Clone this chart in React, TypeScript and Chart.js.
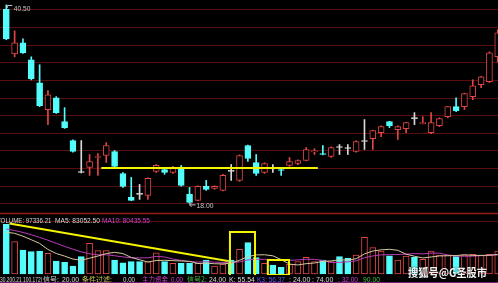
import React, { useEffect, useRef } from 'react';
import { Chart, registerables } from 'chart.js';

Chart.register(...registerables);

// ---- data ----
const OPEN = [40.01, 34.96, 36.2, 34.28, 31.68, 28.63, 29.98, 27.27, 25.12, 21.5,
  22.07, 23.2, 23.43, 23.88, 21.39, 18.68, 19.02, 18.9, 21.62, 21.84,
  21.5, 21.96, 19.02, 18.34, 19.92, 19.69, 19.47, 21.62, 20.6, 24.56,
  22.63, 21.5, 21.9, 21.84, 22.3, 22.52, 22.86, 23.84, 23.65, 23.31,
  24.33, 24.22, 23.88, 25.01, 25.35, 26.03, 27.27, 26.37, 26.48, 27.61,
  27.04, 26.03, 26.82, 27.83, 28.97, 28.97, 30.1, 31.45, 31.79, 34.62];
const HIGH = [40.5, 37.56, 36.65, 34.62, 33.72, 30.78, 30.1, 28.85, 25.2, 25.12,
  23.54, 23.65, 24.89, 24.0, 21.5, 20.94, 20.15, 20.9, 22.4, 21.9,
  22.2, 22.3, 19.81, 20.0, 20.6, 20.0, 21.3, 22.41, 23.5, 24.6,
  23.54, 22.6, 22.41, 21.9, 23.2, 22.95, 24.33, 24.2, 24.56, 24.4,
  24.67, 24.67, 25.1, 27.5, 26.3, 26.8, 27.3, 26.8, 27.2, 28.29,
  27.83, 28.29, 27.7, 29.0, 29.98, 30.5, 32.02, 32.4, 35.19, 37.67];
const LOW = [36.55, 34.62, 35.0, 32.0, 28.97, 26.93, 28.2, 26.5, 23.8, 21.45,
  21.17, 21.17, 22.63, 22.1, 19.8, 18.3, 18.45, 18.45, 21.5, 21.3,
  21.4, 19.95, 18.0, 18.3, 19.47, 19.6, 19.4, 20.6, 20.5, 22.75,
  21.17, 21.4, 21.5, 21.17, 22.2, 22.4, 22.8, 23.54, 23.5, 23.2,
  23.54, 23.54, 23.8, 24.11, 24.11, 25.57, 26.59, 25.24, 26.03, 26.93,
  27.0, 25.9, 26.7, 27.7, 28.4, 28.63, 29.76, 31.11, 31.7, 34.05];
const CLOSE = [36.65, 36.2, 35.07, 32.13, 29.08, 30.32, 28.29, 26.59, 23.88, 21.5,
  22.75, 23.31, 24.56, 22.18, 19.92, 18.34, 19.02, 20.83, 22.3, 21.5,
  22.07, 20.03, 18.11, 19.92, 19.58, 19.92, 21.17, 21.62, 23.43, 23.09,
  21.39, 22.52, 21.9, 21.73, 22.75, 22.86, 24.11, 23.92, 23.54, 24.33,
  24.33, 24.22, 25.01, 25.01, 26.25, 26.71, 26.82, 26.71, 27.16, 27.61,
  27.16, 27.16, 27.61, 28.97, 28.51, 30.44, 31.34, 32.36, 35.07, 37.33];

const VOLUME = [210300, 136700, 101600, 94400, 97300, 87600, 55000, 49500, 33900, 73200,
  129900, 98600, 98600, 59200, 47800, 52100, 52100, 52100, 90100, 52100,
  45300, 45300, 45300, 45300, 59200, 33900, 42300, 59200, 104500, 132500,
  69000, 45300, 38100, 28400, 41100, 52100, 70700, 52100, 59200, 52100,
  73200, 66400, 80400, 155300, 111300, 97300, 77400, 59200, 76200, 70700,
  62200, 97300, 80400, 80400, 73200, 80400, 83400, 80400, 83400, 97336.21];
// 1 = rising (red hollow) volume bar, 0 = falling (cyan)
const VOL_UP = [0, 1, 0, 0, 0, 1, 0, 0, 0, 0,
  1, 1, 1, 0, 0, 0, 0, 1, 1, 0,
  1, 0, 0, 1, 0, 1, 1, 0, 1, 0,
  0, 1, 0, 0, 1, 1, 1, 1, 0, 1,
  0, 0, 1, 1, 1, 1, 0, 1, 1, 0,
  1, 1, 1, 1, 0, 1, 1, 1, 1, 1];
const MA5 = [177000, 172000, 160000, 145000, 129400, 103800, 86700, 75800, 63200, 58100,
  67000, 76100, 86400, 91700, 86400, 70100, 60400, 50600, 57100, 58000,
  56500, 55100, 53700, 44300, 45800, 43400, 42800, 45700, 58100, 73400,
  80800, 81400, 77000, 61000, 41900, 38400, 43700, 46600, 53100, 55400,
  59800, 58900, 64800, 84900, 97300, 102300, 104600, 100200, 83700, 75200,
  67900, 72000, 76400, 77300, 77800, 81600, 78700, 78700, 79300, 83052.5];
const MA10 = [190000, 184000, 176000, 166000, 155000, 143000, 130000, 117000, 105000, 93700,
  85400, 81400, 81100, 77400, 72300, 68500, 68200, 68500, 74400, 72200,
  63300, 57700, 52200, 50700, 51900, 50000, 49000, 49700, 51200, 59600,
  62100, 62100, 61400, 59600, 57700, 59600, 62600, 61800, 57100, 48700,
  49100, 51300, 55700, 69000, 76400, 81100, 81800, 82500, 84300, 86300,
  85100, 88300, 88300, 80500, 76500, 74800, 75400, 77600, 78300, 80435.55];

const PRICE_GRID = [40, 38, 36, 34, 32, 30, 28, 26, 24, 22, 20, 18];

// hand-drawn yellow annotations, in data units (index, price / volume)
const SUPPORT_LINE = [{ x: 11.4, y: 22.0 }, { x: 37.4, y: 22.0 }];
const VOL_TREND = [{ x: 0.38, y: 213700 }, { x: 26.6, y: 55000 }];
const BOX1 = { x0: 26.85, x1: 29.86, y0: -16900, y1: 177700 };
const BOX2 = { x0: 31.4, x1: 33.94, y0: -4200, y1: 59200 };

// ---- styles ----
const UP = '#e04646';
const DOWN = '#54fcfc';
const FLAT = '#d8d8d8';
const FONT = '"Liberation Sans", "Noto Sans CJK SC", sans-serif';
const CJK = '"Noto Sans CJK SC", "Liberation Sans", sans-serif';

const candleColor = (i: number) =>
  CLOSE[i] > OPEN[i] ? UP : CLOSE[i] < OPEN[i] ? DOWN : FLAT;

const boxPts = (b: { x0: number; x1: number; y0: number; y1: number }) => [
  { x: b.x0, y: b.y0 }, { x: b.x0, y: b.y1 }, { x: b.x1, y: b.y1 }, { x: b.x1, y: b.y0 }, { x: b.x0, y: b.y0 },
];

function txt(ctx: CanvasRenderingContext2D, s: string, x: number, y: number, color: string, w?: number, font = '7px ' + FONT) {
  ctx.font = font;
  ctx.fillStyle = color;
  ctx.textAlign = 'left';
  ctx.textBaseline = 'alphabetic';
  if (w) ctx.fillText(s, x, y, w);
  else ctx.fillText(s, x, y);
}

const panelPlugin = {
  id: 'panels',
  beforeDatasetsDraw(chart: any) {
    const ctx = chart.ctx as CanvasRenderingContext2D;
    const { left, right } = chart.chartArea;
    const yP = chart.scales.yP;
    ctx.save();
    ctx.lineWidth = 1;
    ctx.strokeStyle = 'rgba(120,20,20,0.75)';
    PRICE_GRID.forEach((v) => {
      const y = Math.round(yP.getPixelForValue(v)) + 0.5;
      ctx.beginPath();
      ctx.moveTo(left, y);
      ctx.lineTo(right, y);
      ctx.stroke();
    });
    // panel separator and volume grid
    ctx.strokeStyle = '#9a1818';
    ctx.lineWidth = 1.5;
    ctx.beginPath();
    ctx.moveTo(left, 213.5);
    ctx.lineTo(right, 213.5);
    ctx.stroke();
    ctx.lineWidth = 1;
    ctx.strokeStyle = 'rgba(120,20,20,0.75)';
    ctx.beginPath();
    ctx.moveTo(left, 221.5);
    ctx.lineTo(right, 221.5);
    ctx.stroke();
    ctx.restore();
  },
  afterDatasetsDraw(chart: any) {
    const ctx = chart.ctx as CanvasRenderingContext2D;
    const xs = chart.scales.x;
    const yP = chart.scales.yP;
    ctx.save();
    // highest / lowest price labels
    let hi = 0;
    let lo = 0;
    HIGH.forEach((v, i) => { if (v > HIGH[hi]) hi = i; });
    LOW.forEach((v, i) => { if (v < LOW[lo]) lo = i; });
    const hx = xs.getPixelForValue(hi);
    const hy = yP.getPixelForValue(HIGH[hi]);
    ctx.strokeStyle = '#c8c8c8';
    ctx.lineWidth = 1;
    ctx.beginPath();
    ctx.moveTo(hx + 1, hy + 0.5);
    ctx.lineTo(hx + 6, hy + 0.5);
    ctx.moveTo(hx + 1, hy + 0.5);
    ctx.lineTo(hx + 1, hy + 3);
    ctx.stroke();
    txt(ctx, HIGH[hi].toFixed(2), hx + 7.5, hy + 6.5, '#c8c8c8', 16.5);
    const lx = xs.getPixelForValue(lo);
    const ly = yP.getPixelForValue(LOW[lo]);
    ctx.beginPath();
    ctx.moveTo(lx, ly + 1.5);
    ctx.lineTo(lx + 6, ly + 1.5);
    ctx.moveTo(lx, ly + 1.5);
    ctx.lineTo(lx + 2, ly - 0.5);
    ctx.moveTo(lx, ly + 1.5);
    ctx.lineTo(lx + 2, ly + 3.5);
    ctx.stroke();
    txt(ctx, LOW[lo].toFixed(2), lx + 7, ly + 4.5, '#c8c8c8', 17);

    // volume header
    const n = VOLUME.length - 1;
    txt(ctx, 'VOLUME: ' + VOLUME[n].toFixed(2), -3.5, 222.5, '#d8d8d8', 55);
    txt(ctx, 'MA5: ' + MA5[n].toFixed(2), 55, 222.5, '#d8d8d8', 45);
    txt(ctx, 'MA10: ' + MA10[n].toFixed(2), 102, 222.5, '#d040d0', 48);

    // bottom indicator row
    ctx.fillStyle = '#000';
    ctx.fillRect(0, 275, 498, 8);
    const by = 281.5;
    const cjk = '7px ' + CJK;
    txt(ctx, '30.200.21 100.172|', 0, by, '#d8d8d8', 42);
    txt(ctx, '信号:', 43, by, '#d8d8d8', 17, cjk);
    txt(ctx, '20.00', 62, by, '#d8d8d8', 17);
    txt(ctx, '条件过滤:', 82, by, '#c8c850', 38, cjk);
    txt(ctx, '0.00', 123, by, '#d8d8d8', 12);
    txt(ctx, '主力资金', 142, by, '#d040d0', 26, cjk);
    txt(ctx, '0.00', 171, by, '#d040d0', 12);
    txt(ctx, '信号2:', 187, by, '#40c040', 20, cjk);
    txt(ctx, '24.00', 209, by, '#d8d8d8', 17);
    txt(ctx, 'K: 55.54', 229, by, '#d8d8d8', 26);
    txt(ctx, 'K3: 56.37', 257, by, '#5a5aff', 28);
    txt(ctx, ': 24.00', 289, by, '#d8d8d8', 22);
    txt(ctx, ': 74.00', 312, by, '#d8d8d8', 22);
    txt(ctx, ': 32.00', 338, by, '#d040d0', 20);
    txt(ctx, '90.00', 363, by, '#40c040', 17);
    ctx.strokeStyle = 'rgba(160,48,160,0.7)';
    ctx.lineWidth = 1;
    ctx.beginPath();
    ctx.moveTo(0, 282.5);
    ctx.lineTo(498, 282.5);
    ctx.stroke();

    // watermark
    ctx.shadowColor = 'rgba(0,0,0,0.9)';
    ctx.shadowBlur = 2;
    txt(ctx, '搜狐号@G圣股市', 408, 276.5, '#f4f4f4', 79, 'bold 11px ' + CJK);
    ctx.restore();
  },
};

export default function App() {
  const ref = useRef<HTMLCanvasElement | null>(null);

  useEffect(() => {
    if (!ref.current) return;
    const idx = OPEN.map((_, i) => i);
    const colors = idx.map(candleColor);
    const chart = new Chart(ref.current, {
      type: 'bar',
      data: {
        datasets: [
          {
            type: 'line', label: 'support', order: 0, xAxisID: 'x', yAxisID: 'yP',
            data: SUPPORT_LINE, borderColor: '#f4f400', borderWidth: 2, pointRadius: 0,
          } as any,
          {
            type: 'line', label: 'trend', order: 0, xAxisID: 'x', yAxisID: 'yV',
            data: VOL_TREND, borderColor: '#f4f400', borderWidth: 2, pointRadius: 0,
          } as any,
          {
            type: 'line', label: 'box1', order: 0, xAxisID: 'x', yAxisID: 'yV',
            data: boxPts(BOX1), borderColor: '#f4f400', borderWidth: 2, pointRadius: 0,
          } as any,
          {
            type: 'line', label: 'box2', order: 0, xAxisID: 'x', yAxisID: 'yV',
            data: boxPts(BOX2), borderColor: '#f4f400', borderWidth: 2, pointRadius: 0,
          } as any,
          {
            type: 'line', label: 'MA5', order: 1, xAxisID: 'x', yAxisID: 'yV',
            data: MA5.map((v, i) => ({ x: i, y: v })), borderColor: '#d4c8a0', borderWidth: 1, pointRadius: 0,
          } as any,
          {
            type: 'line', label: 'MA10', order: 1, xAxisID: 'x', yAxisID: 'yV',
            data: MA10.map((v, i) => ({ x: i, y: v })), borderColor: '#b83cb8', borderWidth: 1, pointRadius: 0,
          } as any,
          {
            type: 'bar', label: 'body', order: 2, xAxisID: 'x', yAxisID: 'yP', grouped: false,
            data: idx.map((i) => ({ x: i, y: [OPEN[i], CLOSE[i]] })),
            backgroundColor: idx.map((i) => (CLOSE[i] > OPEN[i] ? '#000000' : colors[i])),
            borderColor: colors, borderWidth: 1, borderSkipped: false,
            barThickness: 6, minBarLength: 1,
          } as any,
          {
            type: 'bar', label: 'wick', order: 3, xAxisID: 'x', yAxisID: 'yP', grouped: false,
            data: idx.map((i) => ({ x: i, y: [LOW[i], HIGH[i]] })),
            backgroundColor: colors, borderWidth: 0, barThickness: 1,
          } as any,
          {
            type: 'bar', label: 'volume', order: 4, xAxisID: 'x', yAxisID: 'yV', grouped: false,
            data: VOLUME.map((v, i) => ({ x: i, y: v })),
            backgroundColor: VOL_UP.map((u) => (u ? '#000000' : DOWN)),
            borderColor: VOL_UP.map((u) => (u ? UP : DOWN)),
            borderWidth: 1, borderSkipped: false, barThickness: 6,
          } as any,
        ],
      },
      options: {
        responsive: false,
        animation: false,
        devicePixelRatio: 1,
        layout: { padding: 0 },
        plugins: { legend: { display: false }, tooltip: { enabled: false } },
        scales: {
          x: { type: 'linear', min: -0.756, max: 59.03, offset: false, display: false },
          yP: { type: 'linear', min: 8.97, max: 41.06, display: false },
          yV: { type: 'linear', min: -38088, max: 1159568, display: false },
        },
      } as any,
      plugins: [panelPlugin],
    });
    return () => chart.destroy();
  }, []);

  return (
    <div style={{ position: 'fixed', left: 0, top: 0, width: 498, height: 283, background: '#000', overflow: 'hidden' }}>
      <canvas ref={ref} width={498} height={283} style={{ display: 'block', width: 498, height: 283 }} />
    </div>
  );
}
